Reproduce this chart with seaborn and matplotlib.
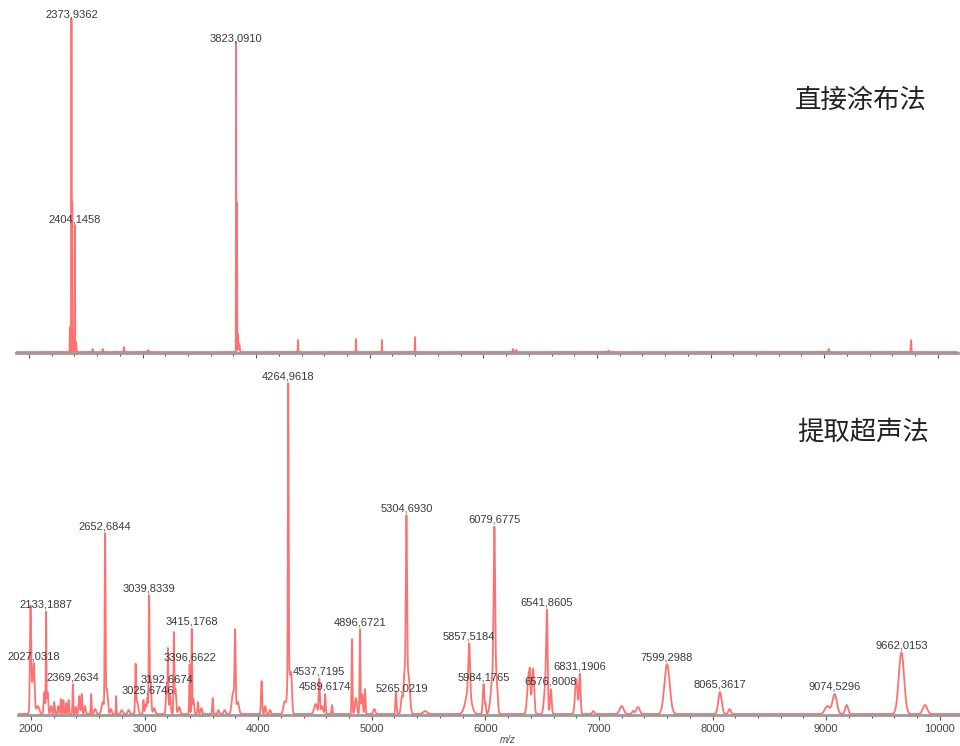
import numpy as np
import pandas as pd
import matplotlib
matplotlib.use('Agg')
import matplotlib.pyplot as plt
from matplotlib.ticker import MultipleLocator
import seaborn as sns

# peak lists: m/z, intensity (a.u.), fwhm (Da)
top_mz = [2360, 2373.9362, 2381, 2390, 2404.1458, 2414, 2560, 2650, 2836, 3050,
          3823.0910, 3831, 3840, 3852, 4368, 4878, 5107, 5398, 6260, 6290,
          7100, 9040, 9764]
top_int = [25, 335, 150, 18, 128, 10, 3, 3, 5, 2,
           312, 150, 18, 8, 12, 13, 12, 15, 3, 2,
           1.5, 3, 12]
top_fwhm = [3, 2.5, 3, 4, 3, 5, 5, 5, 5, 6,
            2.5, 3, 6, 8, 4, 3, 3, 4, 8, 8,
            10, 8, 6]
top_labels = [2373.9362, 2404.1458, 3823.0910]

bot_mz = [1996, 2012, 2027.0318, 2060, 2118, 2133.1887, 2146, 2178, 2205, 2240,
          2262, 2285, 2310, 2332, 2369.2634, 2395, 2425, 2447, 2475, 2530,
          2565, 2632, 2652.6844, 2668, 2705, 2750, 2800, 2860, 2921, 2936,
          2990, 3010, 3025.6746, 3039.8339, 3052, 3085, 3192.6674, 3206, 3224, 3258,
          3272, 3305, 3396.6622, 3415.1768, 3430, 3470, 3500, 3600, 3650, 3705,
          3780, 3797, 3820, 4030, 4062, 4105, 4232, 4264.9618, 4270, 4292,
          4505, 4537.7195, 4562, 4589.6174, 4650, 4826, 4860, 4896.6721, 4915, 4940,
          5022, 5213, 5265.0219, 5288, 5304.6930, 5322, 5470, 5850, 5857.5184, 5984.1765,
          6002, 6065, 6079.6775, 6100, 6382, 6392, 6420, 6530, 6541.8605, 6576.8008,
          6800, 6831.1906, 6950, 7200, 7300, 7343, 7599.2988, 8065.3617, 8150, 9010,
          9074.5296, 9180, 9662.0153, 9870]
bot_int = [95, 30, 35, 8, 22, 100, 22, 8, 12, 8,
           15, 14, 11, 14, 30, 7, 18, 20, 8, 20,
           5, 12, 175, 25, 5, 18, 4, 4, 48, 12,
           14, 10, 16, 112, 35, 6, 28, 65, 20, 80,
           25, 7, 50, 85, 15, 12, 6, 16, 4, 4,
           22, 76, 12, 33, 8, 4, 12, 290, 45, 30,
           10, 35, 8, 20, 9, 75, 16, 85, 20, 25,
           5, 22, 18, 40, 180, 40, 3, 22, 50, 30,
           10, 38, 160, 30, 40, 15, 45, 30, 85, 25,
           35, 40, 3, 8, 3, 7, 50, 22, 5, 8,
           20, 9, 62, 9]
bot_fwhm = [12, 30, 14, 30, 14, 6, 14, 14, 10, 12,
            9, 9, 9, 9, 8, 10, 14, 10, 14, 8,
            20, 25, 9, 20, 15, 6, 20, 20, 10, 20,
            9, 15, 10, 8, 16, 20, 12, 8, 15, 8,
            15, 20, 8, 7, 14, 10, 15, 10, 15, 20,
            28, 11, 25, 12, 14, 15, 25, 8, 30, 16,
            30, 12, 20, 10, 9, 9, 20, 9, 14, 10,
            20, 12, 20, 18, 13, 30, 40, 60, 18, 16,
            10, 40, 16, 20, 30, 10, 22, 30, 15, 16,
            25, 16, 20, 40, 20, 35, 55, 35, 25, 50,
            45, 30, 55, 45]
bot_labels = [2027.0318, 2133.1887, 2369.2634, 2652.6844, 3025.6746, 3039.8339,
              3192.6674, 3396.6622, 3415.1768, 4264.9618, 4537.7195, 4589.6174,
              4896.6721, 5265.0219, 5304.6930, 5857.5184, 5984.1765, 6079.6775,
              6541.8605, 6576.8008, 6831.1906, 7599.2988, 8065.3617, 9074.5296,
              9662.0153]

titles = ['直接涂布法', '提取超声法']

sns.set_theme(style='white')
plt.rcParams['font.family'] = ['Liberation Sans', 'DejaVu Sans']

grid = np.arange(1880, 10200, 0.5)


def spectrum(mz, inten, fwhm):
    # sum of gaussian peaks from the peak list
    y = np.zeros_like(grid)
    for m, h, w in zip(mz, inten, fwhm):
        y += h * np.exp(-4 * np.log(2) * ((grid - m) / w) ** 2)
    return pd.DataFrame({'mz': grid, 'intensity': y})


def draw(ax, df, labels, title, title_y, ymax):
    sns.lineplot(data=df, x='mz', y='intensity', ax=ax, color='#ff4242',
                 linewidth=1.3, alpha=0.75, estimator=None, sort=False)
    ax.set_xlim(1886, 10178)
    ax.set_ylim(-1, ymax)
    for s in ['top', 'left', 'right']:
        ax.spines[s].set_visible(False)
    ax.spines['bottom'].set_color('#9a9a9a')
    ax.spines['bottom'].set_linewidth(2)
    ax.xaxis.set_major_locator(MultipleLocator(1000))
    ax.xaxis.set_minor_locator(MultipleLocator(200))
    ax.tick_params(axis='x', which='major', bottom=True, length=3.5, width=0.8,
                   color='#555555', labelsize=8, labelcolor='#444444', pad=3)
    ax.tick_params(axis='x', which='minor', bottom=True, length=2.5, width=0.8,
                   color='#555555')
    ax.set_yticks([])
    ax.set_ylabel('')
    ax.set_xlabel('')
    for m in labels:
        h = np.interp(m, df['mz'], df['intensity'])
        ax.annotate(f'{m:.4f}'.replace('.', ','), xy=(m, h), xytext=(0, 1.5),
                    textcoords='offset points', ha='center', va='bottom',
                    fontsize=8, color='#3a3a3a')
    ax.text(0.967, title_y, title, transform=ax.transAxes, ha='right', va='center',
            fontsize=19, color='#222222', family=['Noto Sans CJK SC', 'DejaVu Sans'])


fig = plt.figure(figsize=(9.6, 7.46), dpi=100)
ax_top = fig.add_axes([16 / 960, 1 - 353 / 746, 942 / 960, 348 / 746])
ax_bot = fig.add_axes([18 / 960, 1 - 715 / 746, 942 / 960, 340 / 746])

draw(ax_top, spectrum(top_mz, top_int, top_fwhm), top_labels, titles[0], 0.727, 348)
ax_top.tick_params(axis='x', labelbottom=False)
draw(ax_bot, spectrum(bot_mz, bot_int, bot_fwhm), bot_labels, titles[1], 0.832, 340)
ax_bot.set_xlabel('m/z', fontstyle='italic', fontsize=7, color='#444444', labelpad=1, x=0.52)

fig.savefig('out.png', dpi=100)
